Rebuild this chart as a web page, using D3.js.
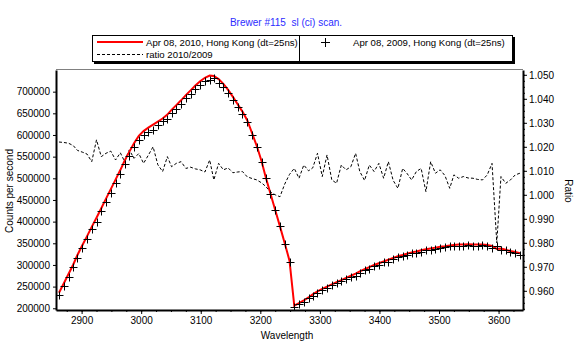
<!DOCTYPE html>
<html>
<head>
<meta charset="utf-8">
<script src="https://cdn.jsdelivr.net/npm/d3@7"></script>
<style>
  body { margin: 0; background: #fff; }
  svg { font-family: "Liberation Sans", Arial, sans-serif; }
</style>
</head>
<body>
<svg id="chart" width="581" height="350"></svg>
<script>
// scan wavelengths (x)
const wavelength = [2862,2870,2878,2886,2893,2901,2909,2917,2925,2933,2941,2949,2957,2965,2972,2980,2988,2996,3004,3012,
  3020,3028,3036,3044,3051,3059,3067,3075,3083,3091,3099,3107,3115,3122,3130,3138,3146,3154,3162,3170,
  3178,3186,3194,3202,3209,3217,3225,3233,3241,3249,3257,3265,3273,3281,3288,3296,3304,3312,3320,3328,
  3336,3344,3352,3360,3367,3375,3383,3391,3399,3407,3415,3423,3431,3439,3446,3454,3462,3470,3478,3486,
  3494,3502,3510,3518,3525,3533,3541,3549,3557,3565,3573,3581,3589,3597,3604,3612,3620,3628,3636];

// Apr 08, 2010 counts (red line)
const counts2010 = [236000,257000,279000,301000,323000,345000,366000,388000,409000,431000,453000,475000,497000,519000,540000,561000,581000,598000,609000,617000,
  624000,631000,638000,647000,658000,669000,680000,692000,703000,714000,724000,732000,737000,736000,729000,718000,704000,688000,671000,654000,
  634000,605000,575000,540000,503000,465000,427000,389000,350000,310000,206000,212000,218000,225000,232000,239000,245000,250000,255000,260000,
  265000,270000,275000,280000,285000,290000,295000,300000,304000,308000,312000,316000,320000,323000,326000,329000,331000,334000,336000,338000,
  340000,342000,343000,345000,346000,347000,347000,348000,347000,347000,347000,346000,344000,337000,338000,335000,332000,330000,327000];

// Apr 08, 2009 counts (crosses)
const counts2009 = [230900,251500,273100,295000,317100,339000,359900,382700,399800,424300,445300,466500,489900,510100,532500,550700,572300,587900,601100,607000,
  611800,623200,631900,636900,650400,660400,670700,684500,695000,706400,716500,725100,726500,731500,719600,710600,696200,681700,664700,647700,
  629300,600900,571500,537300,501200,464400,427000,389300,348400,307400,203800,210500,215300,222800,229400,234900,243200,245900,253400,258800,
  261800,267200,271800,275200,282300,288300,291400,297100,300100,305900,307800,314100,319100,319500,323100,327000,327800,330400,335600,333400,
  337000,338500,340300,344100,343200,344600,344400,345600,344600,344800,344900,343200,339600,343900,335500,333400,330000,327300,324100];

// ratio 2010/2009 (dashed line)
const ratio = [1.0220,1.0218,1.0215,1.0205,1.0185,1.0178,1.0170,1.0138,1.0229,1.0159,1.0173,1.0182,1.0145,1.0175,1.0140,1.0187,1.0152,1.0172,1.0131,1.0165,
  1.0200,1.0125,1.0097,1.0159,1.0117,1.0131,1.0138,1.0110,1.0115,1.0108,1.0104,1.0095,1.0145,1.0062,1.0131,1.0104,1.0112,1.0092,1.0095,1.0097,
  1.0075,1.0068,1.0062,1.0050,1.0035,1.0012,1.0000,0.9992,1.0045,1.0085,1.0110,1.0069,1.0124,1.0100,1.0112,1.0173,1.0076,1.0166,1.0062,1.0048,
  1.0124,1.0104,1.0117,1.0173,1.0097,1.0060,1.0124,1.0097,1.0131,1.0069,1.0138,1.0060,1.0027,1.0110,1.0090,1.0062,1.0097,1.0110,1.0013,1.0138,
  1.0090,1.0104,1.0080,1.0027,1.0083,1.0069,1.0076,1.0070,1.0069,1.0064,1.0062,1.0083,1.0131,0.9800,1.0076,1.0048,1.0062,1.0083,1.0090];

const waveTicks = [2900,3000,3100,3200,3300,3400,3500,3600];
const countTicks = [200000,250000,300000,350000,400000,450000,500000,550000,600000,650000,700000];
const ratioTicks = [0.960,0.970,0.980,0.990,1.000,1.010,1.020,1.030,1.040,1.050];

const svg = d3.select("#chart");
const plotLeft = 56, plotRight = 523, plotTop = 70, plotBottom = 310;

const x = d3.scaleLinear().domain([2857, 3641]).range([plotLeft, plotRight]);
const yL = d3.scaleLinear().domain([196000, 750000]).range([plotBottom, plotTop]);
const yR = d3.scaleLinear().domain([0.952, 1.052]).range([plotBottom, plotTop]);

const pts = wavelength.map((w, i) => ({w: w, c10: counts2010[i], c09: counts2009[i], r: ratio[i]}));

// title
svg.append("text")
  .attr("x", 286).attr("y", 26)
  .attr("text-anchor", "middle")
  .attr("font-size", 10)
  .attr("fill", "#2c2cff")
  .style("white-space", "pre")
  .text("Brewer #115  sl (ci) scan.");

// legend box with shadow
const lg = svg.append("g");
lg.append("rect").attr("x", 94).attr("y", 37).attr("width", 421).attr("height", 27).attr("fill", "#000");
lg.append("rect").attr("x", 92.5).attr("y", 35.5).attr("width", 420).attr("height", 26)
  .attr("fill", "#fff").attr("stroke", "#000");
lg.append("line").attr("x1", 299.5).attr("x2", 299.5).attr("y1", 35.5).attr("y2", 61.5).attr("stroke", "#000");
lg.append("line").attr("x1", 97).attr("x2", 143).attr("y1", 42).attr("y2", 42)
  .attr("stroke", "#ff0000").attr("stroke-width", 2);
lg.append("text").attr("x", 146).attr("y", 45.5).attr("font-size", 9.6).text("Apr 08, 2010, Hong Kong (dt=25ns)");
lg.append("line").attr("x1", 97).attr("x2", 143).attr("y1", 54.5).attr("y2", 54.5)
  .attr("stroke", "#000").attr("stroke-dasharray", "3,2");
lg.append("text").attr("x", 146).attr("y", 58).attr("font-size", 9.6).text("ratio 2010/2009");
lg.append("path").attr("transform", "translate(325.5,42.5)").attr("d", "M-4.5,0H4.5M0,-4.5V4.5")
  .attr("stroke", "#000").attr("shape-rendering", "crispEdges");
lg.append("text").attr("x", 353).attr("y", 45.5).attr("font-size", 9.6).text("Apr 08, 2009, Hong Kong (dt=25ns)");

// top border
svg.append("line").attr("x1", plotLeft).attr("x2", plotRight).attr("y1", plotTop - 0.5).attr("y2", plotTop - 0.5)
  .attr("stroke", "#808080");

// clip
svg.append("clipPath").attr("id", "plotclip").append("rect")
  .attr("x", plotLeft).attr("y", plotTop).attr("width", plotRight - plotLeft).attr("height", plotBottom - plotTop);
const plot = svg.append("g").attr("clip-path", "url(#plotclip)");

// ratio dashed line
plot.append("path")
  .datum(pts)
  .attr("fill", "none")
  .attr("stroke", "#000")
  .attr("stroke-width", 1)
  .attr("stroke-dasharray", "3,2")
  .attr("d", d3.line().x(d => x(d.w)).y(d => yR(d.r)));

// 2010 red line
plot.append("path")
  .datum(pts)
  .attr("fill", "none")
  .attr("stroke", "#ff0000")
  .attr("stroke-width", 2)
  .attr("d", d3.line().x(d => x(d.w)).y(d => yL(d.c10)));

// 2009 crosses
plot.selectAll(".cross")
  .data(pts)
  .enter()
  .append("path")
  .classed("cross", true)
  .attr("transform", d => "translate(" + Math.round(x(d.w)) + "," + Math.round(yL(d.c09)) + ")")
  .attr("d", "M-3.5,0.5H4.5M0.5,-3.5V4.5")
  .attr("stroke", "#000")
  .attr("stroke-width", 1)
  .attr("fill", "none");

// axes
function styleAxis(g) {
  g.selectAll("text").attr("font-size", 10).attr("fill", "#000").style("font-family", "\"Liberation Sans\", Arial, sans-serif");
  g.selectAll("line").attr("stroke", "#000");
}

const xMinor = d3.range(2875, 3641, 25);
svg.append("g").attr("transform", "translate(0," + plotBottom + ")")
  .call(d3.axisBottom(x).tickValues(xMinor).tickSize(2).tickFormat(""))
  .call(g => g.select(".domain").remove())
  .call(styleAxis);
svg.append("g").attr("transform", "translate(0," + plotBottom + ")")
  .call(d3.axisBottom(x).tickValues(waveTicks).tickSize(4).tickSizeOuter(0).tickPadding(3).tickFormat(d3.format("d")))
  .call(g => g.select(".domain").attr("stroke", "#000").attr("stroke-width", 2))
  .call(styleAxis);

svg.append("g").attr("transform", "translate(" + plotLeft + ",0)")
  .call(d3.axisLeft(yL).tickValues(countTicks).tickSize(3).tickSizeOuter(0).tickPadding(3).tickFormat(d3.format("d")))
  .call(g => g.select(".domain").attr("stroke", "#000").attr("stroke-width", 2))
  .call(styleAxis);

const rMinor = d3.range(0.9525, 1.052, 0.0025);
svg.append("g").attr("transform", "translate(" + plotRight + ",0)")
  .call(d3.axisRight(yR).tickValues(rMinor).tickSize(2).tickFormat(""))
  .call(g => g.select(".domain").remove())
  .call(styleAxis);
svg.append("g").attr("transform", "translate(" + plotRight + ",0)")
  .call(d3.axisRight(yR).tickValues(ratioTicks).tickSize(4).tickSizeOuter(0).tickPadding(2).tickFormat(d3.format(".3f")))
  .call(g => g.select(".domain").attr("stroke", "#000").attr("stroke-width", 2))
  .call(styleAxis);

// axis titles
svg.append("text").attr("x", 287).attr("y", 339).attr("text-anchor", "middle").attr("font-size", 10).text("Wavelength");
svg.append("text").attr("transform", "translate(13,191) rotate(-90)").attr("text-anchor", "middle")
  .attr("font-size", 10).text("Counts per second");
svg.append("text").attr("transform", "translate(565,191) rotate(90)").attr("text-anchor", "middle")
  .attr("font-size", 10).text("Ratio");
</script>
</body>
</html>
